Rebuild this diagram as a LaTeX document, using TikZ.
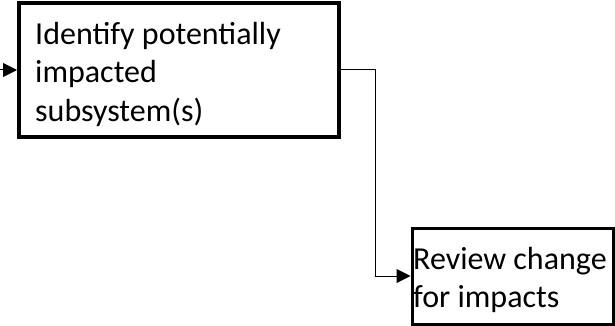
\documentclass[tikz,border=0pt]{standalone}
\usepackage{fontspec}
\setmainfont{Carlito}
\usetikzlibrary{arrows.meta}
\begin{document}
\begin{tikzpicture}[x=1pt,y=-1pt,
  stepbox/.style={draw=black,rectangle,inner sep=0pt},
  label/.style={anchor=north west,inner sep=0pt,align=left,
    font=\fontsize{32}{38.5}\selectfont},
  flow/.style={draw=black,line width=1pt,
    -{Triangle[length=14pt,width=14pt]}}]
  \useasboundingbox (0,0) rectangle (615,326);
  % process boxes
  \node[stepbox,line width=4pt,minimum width=320pt,minimum height=134pt]
    (identify) at (179,70) {};
  \node[stepbox,line width=3pt,minimum width=201pt,minimum height=96pt]
    (review) at (512.5,276) {};
  % box texts
  \node[label] (identifytext) at (35,22) {Identify potentially\\impacted\\subsystem(s)};
  \node[label] (reviewtext) at (413,247) {Review change\\for impacts};
  % connectors
  \coordinate (in) at (0,70);
  \coordinate (bend) at (375,70);
  \draw[flow] (in) -- (identify.west);
  \draw[flow] (identify.east) -- (bend) |- (review.west);
\end{tikzpicture}
\end{document}
